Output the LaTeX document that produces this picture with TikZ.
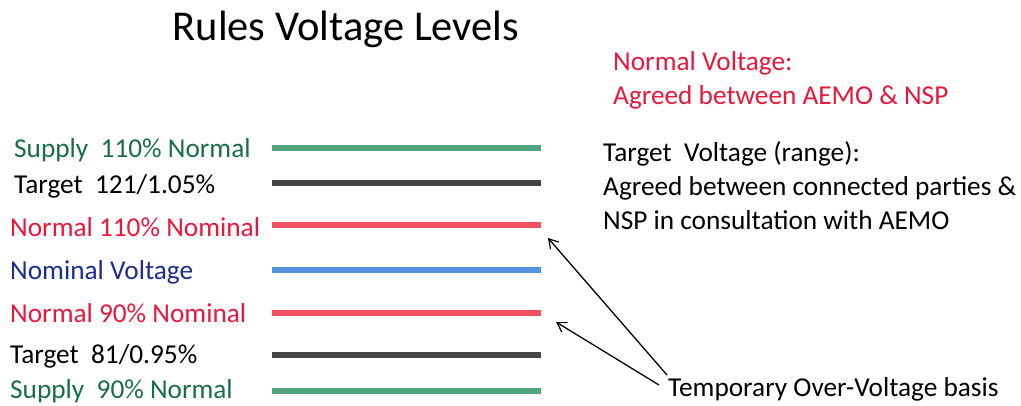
\documentclass[tikz,border=0pt]{standalone}
\usepackage{fontspec}
\setmainfont{Carlito}
\usetikzlibrary{arrows.meta}
\definecolor{sgreen}{RGB}{25,110,70}
\definecolor{lgreen}{RGB}{80,165,125}
\definecolor{lgray}{RGB}{70,70,70}
\definecolor{tred}{RGB}{232,24,60}
\definecolor{lred}{RGB}{240,80,95}
\definecolor{tblue}{RGB}{30,45,140}
\definecolor{lblue}{RGB}{85,145,225}
\tikzset{
  lvl/.style={line width=6pt},
  lbl/.style={anchor=west,inner sep=0pt,font=\fontsize{27.3}{30}\selectfont},
  note/.style={anchor=west,inner sep=0pt,align=left,font=\fontsize{27.3}{34}\selectfont},
  arr/.style={-{Straight Barb[length=9pt,width=11pt,line width=1.2pt]},line width=1.3pt,black}
}
\begin{document}
\begin{tikzpicture}[x=1pt,y=-1pt]
\useasboundingbox (0,0) rectangle (1021,405);
\node[inner sep=0pt,font=\fontsize{42.5}{46}\selectfont] (title) at (346,29) {Rules Voltage Levels};
% labels
\node[lbl,text=sgreen] (l1) at (14,150) {Supply\ \ 110\% Normal};
\node[lbl,text=black] (l2) at (14,186) {Target\ \ 121/1.05\%};
\node[lbl,text=tred] (l3) at (10,227) {Normal 110\% Nominal};
\node[lbl,text=tblue] (l4) at (10,272) {Nominal Voltage};
\node[lbl,text=tred] (l5) at (10,313) {Normal 90\% Nominal};
\node[lbl,text=black] (l6) at (10,356) {Target\ \ 81/0.95\%};
\node[lbl,text=sgreen] (l7) at (10,391) {Supply\ \ 90\% Normal};
% level lines
\coordinate (a1) at (272,148); \coordinate (b1) at (541,148);
\coordinate (a2) at (272,183); \coordinate (b2) at (541,183);
\coordinate (a3) at (272,225); \coordinate (b3) at (541,225);
\coordinate (a4) at (272,270); \coordinate (b4) at (541,270);
\coordinate (a5) at (272,313); \coordinate (b5) at (541,313);
\coordinate (a6) at (272,355); \coordinate (b6) at (541,355);
\coordinate (a7) at (272,391); \coordinate (b7) at (541,391);
\draw[lvl,lgreen] (a1) -- (b1);
\draw[lvl,lgray] (a2) -- (b2);
\draw[lvl,lred] (a3) -- (b3);
\draw[lvl,lblue] (a4) -- (b4);
\draw[lvl,lred] (a5) -- (b5);
\draw[lvl,lgray] (a6) -- (b6);
\draw[lvl,lgreen] (a7) -- (b7);
% notes
\node[note,text=tred] (n1) at (613,80) {Normal Voltage:\\Agreed between AEMO \& NSP};
\node[note,text=black] (n2) at (603,186) {Target\ \ Voltage (range):\\Agreed between connected parties \&\\NSP in consultation with AEMO};
\node[lbl,text=black] (tov) at (668,389) {Temporary Over-Voltage basis};
\coordinate (t1) at (548,238);
\coordinate (t2) at (556,322);
\draw[arr] (667,375) -- (t1);
\draw[arr] (659,385) -- (t2);
\end{tikzpicture}
\end{document}
